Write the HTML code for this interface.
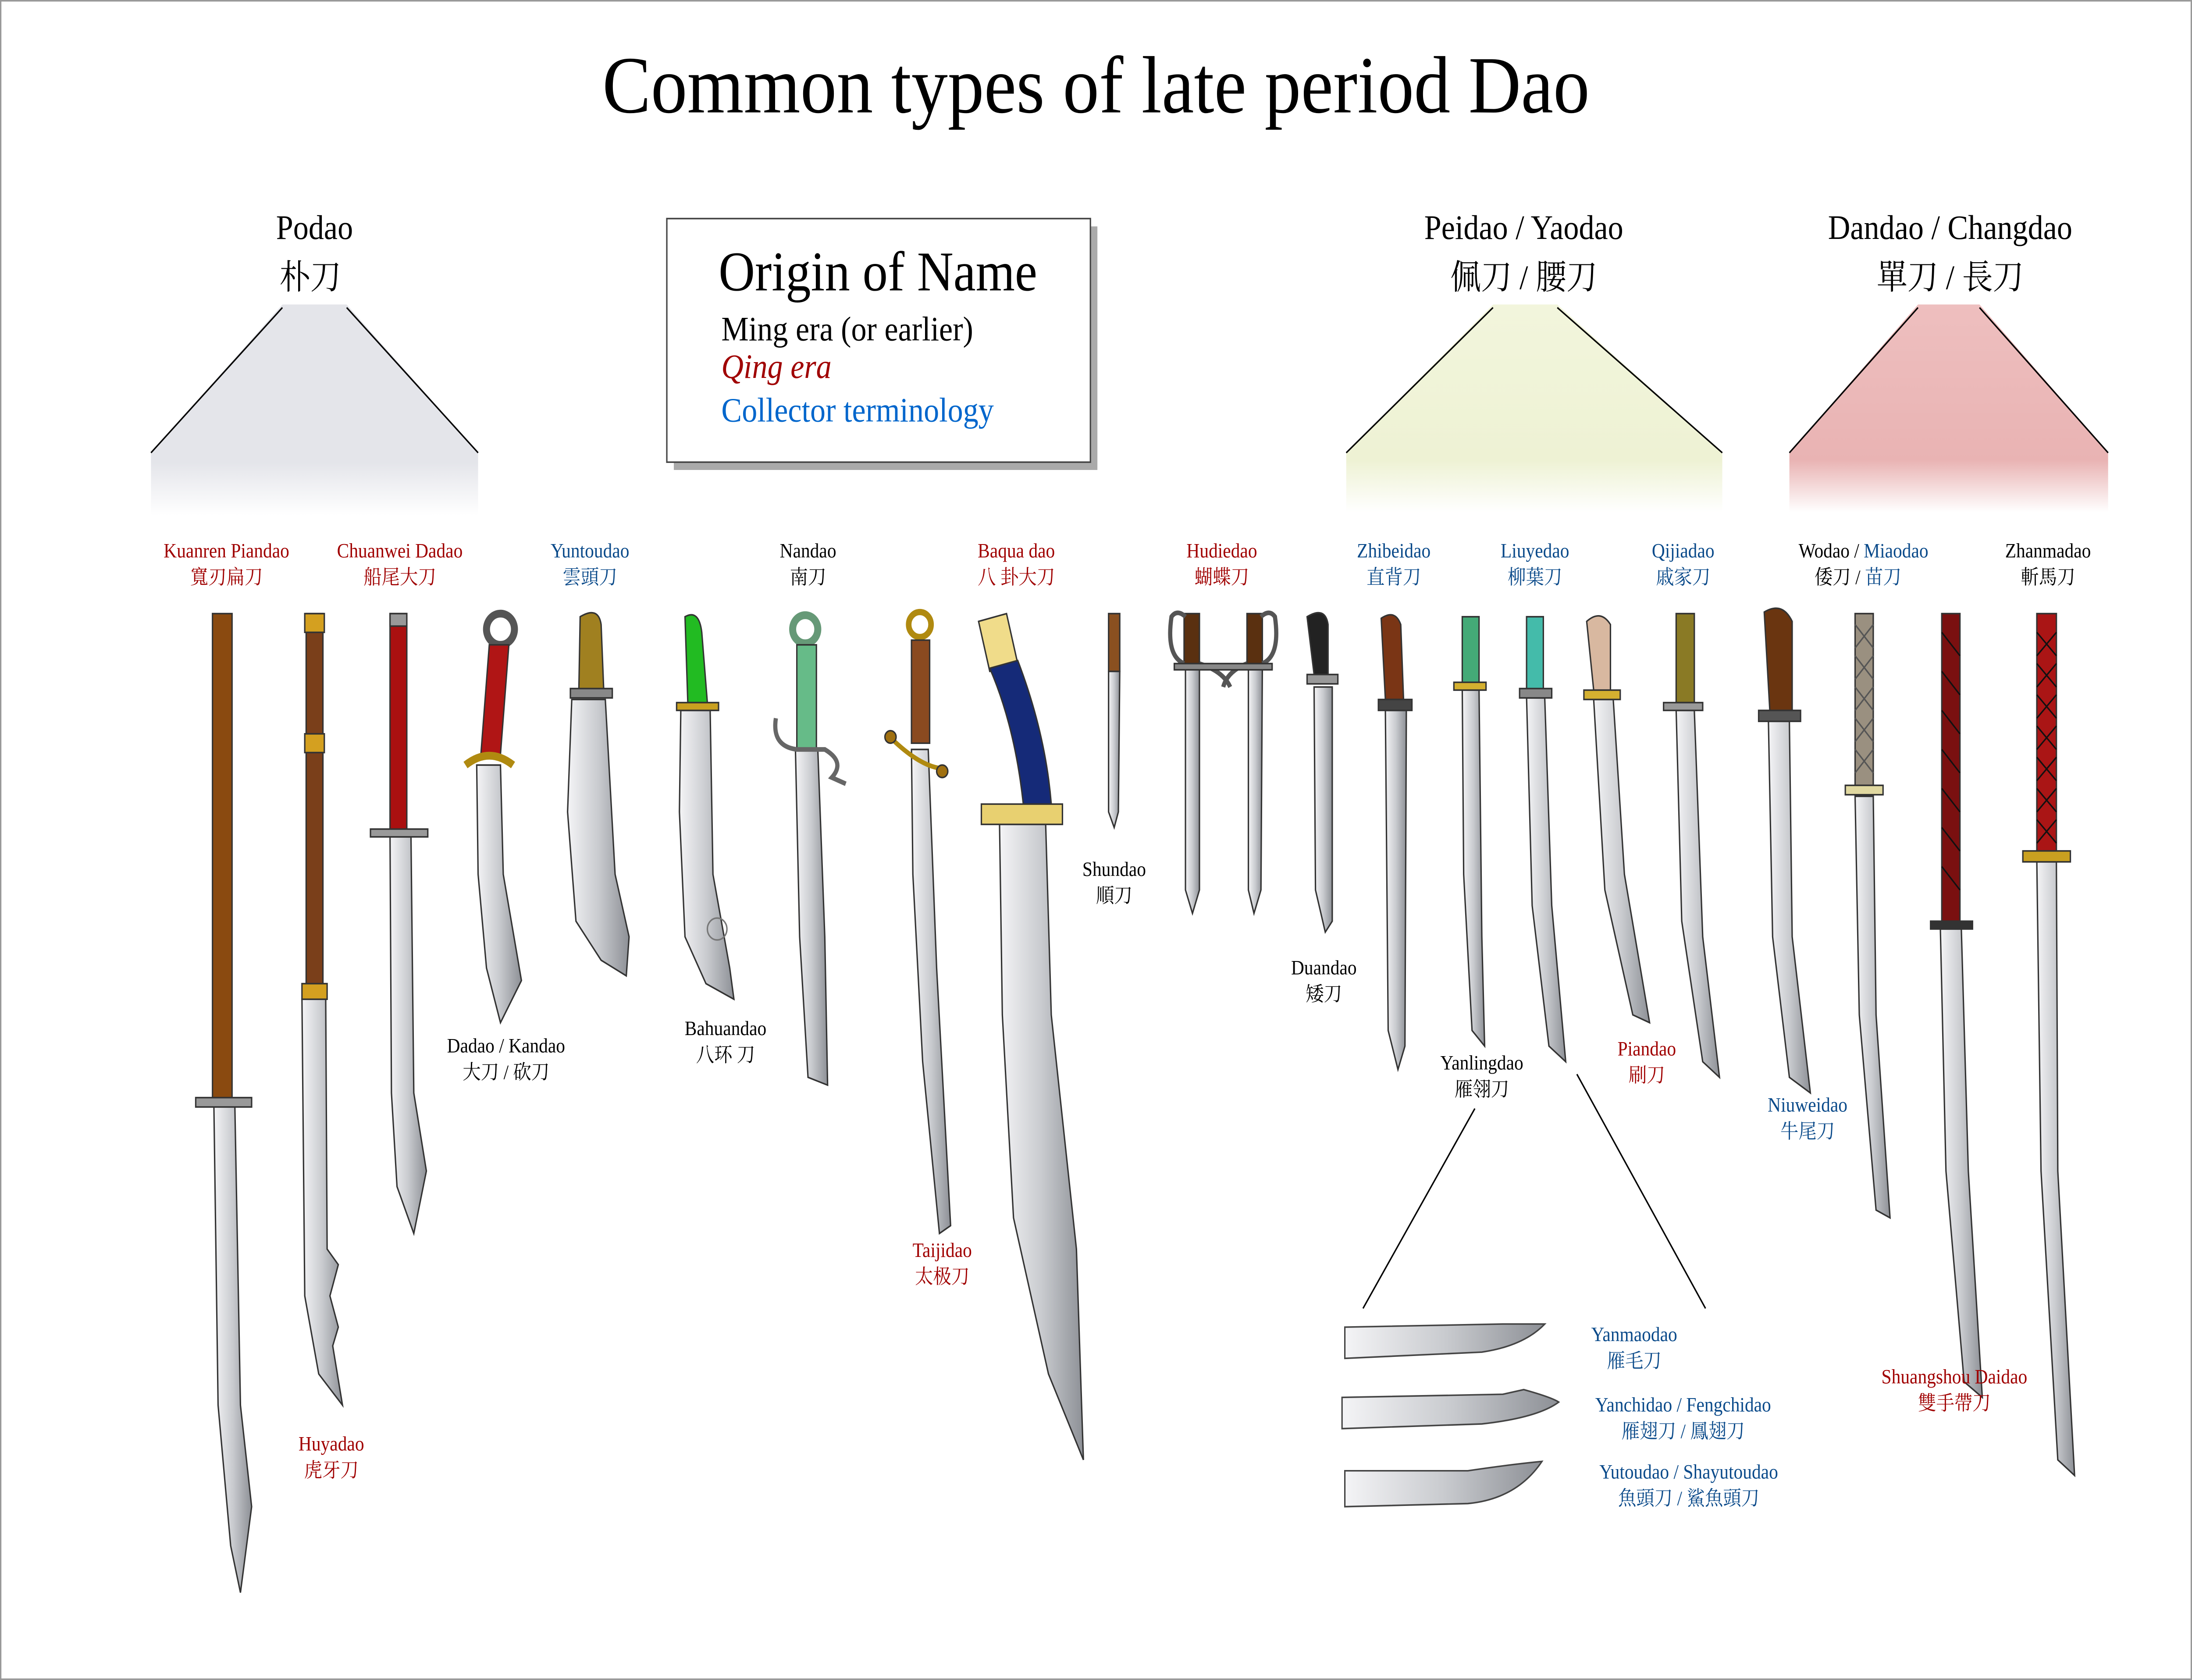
<!DOCTYPE html>
<html><head><meta charset="utf-8"><style>
html,body{margin:0;padding:0;background:#fff;overflow:hidden;width:100%;height:100%}
svg{display:block;position:fixed;left:0;top:0;width:100vw;height:100vh}
text{font-family:"Liberation Serif","Noto Serif CJK SC","Noto Sans CJK SC",serif}
</style></head><body>
<svg viewBox="0 0 1568 1076" preserveAspectRatio="none" xmlns="http://www.w3.org/2000/svg">
<defs>
<linearGradient id="bl" x1="0" x2="1" y1="0" y2="0"><stop offset="0" stop-color="#f4f4f6"/><stop offset="0.5" stop-color="#c9cbcf"/><stop offset="1" stop-color="#8d9096"/></linearGradient>
<linearGradient id="tg" x1="0" x2="0" y1="0" y2="1"><stop offset="0" stop-color="#e4e5ea"/><stop offset="0.75" stop-color="#e4e5ea"/><stop offset="1" stop-color="#fff"/></linearGradient>
<linearGradient id="ty" x1="0" x2="0" y1="0" y2="1"><stop offset="0" stop-color="#f2f5dc"/><stop offset="0.75" stop-color="#eef2d4"/><stop offset="1" stop-color="#fff"/></linearGradient>
<linearGradient id="tp" x1="0" x2="0" y1="0" y2="1"><stop offset="0" stop-color="#eebfbf"/><stop offset="0.75" stop-color="#e9b3b3"/><stop offset="1" stop-color="#fff"/></linearGradient>
</defs>
<rect x="0.5" y="0.5" width="1567" height="1075" fill="#fff" stroke="#999"/>
<text x="784" y="72" font-size="52" text-anchor="middle">Common types of late period Dao</text>

<path d="M202,195 L248,195 L342,290 L342,330 L108,330 L108,290 Z" fill="url(#tg)"/>
<path d="M108,290 L202,197 M248,197 L342,290" stroke="#000" fill="none"/>
<text x="225" y="153" font-size="22" text-anchor="middle">Podao</text>
<text x="222" y="185" font-size="22" text-anchor="middle">朴刀</text>
<path d="M1068,195 L1114,195 L1232,290 L1232,328 L963,328 L963,290 Z" fill="url(#ty)"/>
<path d="M963,290 L1068,197 M1114,197 L1232,290" stroke="#000" fill="none"/>
<text x="1090" y="153" font-size="22" text-anchor="middle">Peidao / Yaodao</text>
<text x="1090" y="185" font-size="22" text-anchor="middle">佩刀 / 腰刀</text>
<path d="M1372,195 L1416,195 L1508,290 L1508,328 L1280,328 L1280,290 Z" fill="url(#tp)"/>
<path d="M1280,290 L1372,197 M1416,197 L1508,290" stroke="#000" fill="none"/>
<text x="1395" y="153" font-size="22" text-anchor="middle">Dandao / Changdao</text>
<text x="1395" y="185" font-size="22" text-anchor="middle">單刀 / 長刀</text>

<rect x="482" y="145" width="303" height="156" fill="#aaa"/>
<rect x="477" y="140" width="303" height="156" fill="#fff" stroke="#444"/>
<text x="628" y="186" font-size="36" text-anchor="middle">Origin of Name</text>
<text x="516" y="218" font-size="22">Ming era (or earlier)</text>
<text x="516" y="242" font-size="22" fill="#a00000" font-style="italic">Qing era</text>
<text x="516" y="270" font-size="22" fill="#0066cc">Collector terminology</text>

<g stroke="#333" stroke-width="1">
<path d="M153,708 L168,708 L172,900 L180,965 L172,1020 L165,990 L156,900 Z" fill="url(#bl)"/>
<rect x="152" y="393" width="14" height="312" fill="#8a4a10"/>
<rect x="140" y="703" width="40" height="6" fill="#999"/>
<path d="M216,640 L233,640 L234,800 L242,810 L236,830 L242,850 L238,862 L245,900 L228,880 L218,830 Z" fill="url(#bl)"/>
<rect x="219" y="393" width="12" height="247" fill="#7a3f1a"/>
<rect x="218" y="393" width="14" height="12" fill="#d4a020"/><rect x="218" y="470" width="14" height="12" fill="#d4a020"/><rect x="216" y="630" width="18" height="10" fill="#d4a020"/>
<path d="M279,536 L294,536 L296,700 L305,750 L296,790 L284,760 L280,700 Z" fill="url(#bl)"/>
<rect x="279" y="393" width="12" height="140" fill="#aa1010"/><rect x="279" y="393" width="12" height="8" fill="#999"/>
<rect x="265" y="531" width="41" height="5" fill="#999"/>
<path d="M341,490 L358,490 L360,560 L373,628 L358,655 L348,620 L342,560 Z" fill="url(#bl)"/>
<circle cx="358" cy="403" r="10" fill="none" stroke="#555" stroke-width="5"/>
<path d="M350,413 L364,413 L358,483 L344,483 Z" fill="#b01515"/>
<path d="M333,490 Q350,478 367,490" stroke="#b08a10" stroke-width="5" fill="none"/>
<path d="M409,448 L433,448 L440,560 L450,600 L448,625 L430,615 L412,590 L406,520 Z" fill="url(#bl)"/>
<path d="M415,395 Q428,388 430,400 L432,445 L414,445 Z" fill="#a08020"/>
<rect x="408" y="441" width="30" height="6" fill="#888"/>
<path d="M487,455 L508,455 L510,560 L522,620 L525,640 L505,630 L490,600 L486,520 Z" fill="url(#bl)"/>
<path d="M490,395 Q500,390 502,405 L506,450 L492,450 Z" fill="#22bb22"/>
<rect x="484" y="450" width="30" height="5" fill="#c9a020"/>
<circle cx="513" cy="595" r="7" fill="none" stroke="#777"/>
<path d="M569,480 L585,480 L590,600 L592,695 L578,690 L572,600 Z" fill="url(#bl)"/>
<circle cx="576" cy="403" r="9" fill="none" stroke="#669977" stroke-width="5"/>
<rect x="570" y="413" width="14" height="67" fill="#66bb88"/>
<path d="M555,460 Q552,478 570,480 L590,480 Q605,488 595,498 L605,502" stroke="#666" stroke-width="3" fill="none"/>
<path d="M652,480 L664,480 L670,620 L680,785 L672,790 L660,680 L653,560 Z" fill="url(#bl)"/>
<circle cx="658" cy="400" r="8" fill="none" stroke="#b08a10" stroke-width="4"/>
<rect x="652" y="410" width="13" height="66" fill="#8a4a20"/>
<path d="M640,475 Q658,490 672,492" stroke="#b08a10" stroke-width="3" fill="none"/>
<circle cx="637" cy="472" r="4" fill="#a07010"/><circle cx="674" cy="494" r="4" fill="#a07010"/>
<path d="M715,528 L748,528 L752,650 L770,800 L775,935 L750,880 L725,780 L717,650 Z" fill="url(#bl)"/>
<path d="M700,398 L720,393 L728,425 L708,430 Z" fill="#f0dc8a"/>
<path d="M708,428 L728,423 Q748,470 752,515 L732,515 Q726,465 708,428 Z" fill="#152a78"/>
<rect x="702" y="515" width="58" height="13" fill="#e8d070"/>
<path d="M793,430 L801,430 L800,520 L797,530 L793,520 Z" fill="url(#bl)"/>
<rect x="793" y="393" width="8" height="37" fill="#8a5020"/>
<path d="M848,428 L858,428 L858,570 L853,585 L848,570 Z" fill="url(#bl)"/>
<path d="M893,428 L903,428 L902,570 L897,585 L893,570 Z" fill="url(#bl)"/>
<rect x="847" y="393" width="11" height="33" fill="#5a3010"/><rect x="892" y="393" width="11" height="33" fill="#5a3010"/>
<path d="M847,425 Q834,420 838,395 Q842,390 848,395 M858,425 Q875,430 880,440 M903,425 Q916,420 912,395 Q908,390 902,395 M892,425 Q878,430 875,440" stroke="#555" stroke-width="3" fill="none"/>
<rect x="840" y="425" width="70" height="4" fill="#888"/>
<path d="M940,440 L953,440 L953,590 L948,597 L941,570 Z" fill="url(#bl)"/>
<path d="M935,395 Q948,388 950,400 L950,432 L940,432 Z" fill="#222"/>
<rect x="935" y="432" width="22" height="6" fill="#999"/>
<path d="M991,455 L1006,455 L1005,670 L1000,685 L993,660 Z" fill="url(#bl)"/>
<path d="M988,396 Q998,390 1002,400 L1004,448 L991,448 Z" fill="#7a3515"/>
<rect x="986" y="448" width="24" height="7" fill="#444"/>
<path d="M1046,442 L1058,442 L1060,600 L1062,670 L1053,660 L1047,560 Z" fill="url(#bl)"/>
<rect x="1046" y="395" width="12" height="43" fill="#44aa77"/>
<rect x="1040" y="437" width="23" height="5" fill="#d4b030"/>
<path d="M1092,447 L1105,447 L1110,580 L1120,680 L1108,670 L1096,580 Z" fill="url(#bl)"/>
<rect x="1092" y="395" width="12" height="48" fill="#44bbaa"/>
<rect x="1087" y="441" width="23" height="6" fill="#888"/>
<path d="M1140,448 L1154,448 L1162,560 L1180,655 L1168,650 L1148,570 Z" fill="url(#bl)"/>
<path d="M1135,398 Q1145,390 1152,400 L1152,442 L1140,442 Z" fill="#d8b8a0"/>
<rect x="1133" y="442" width="26" height="6" fill="#d4b030"/>
<path d="M1199,455 L1212,455 L1218,600 L1230,690 L1218,680 L1203,590 Z" fill="url(#bl)"/>
<rect x="1199" y="393" width="13" height="57" fill="#8a7a25"/>
<rect x="1190" y="450" width="28" height="5" fill="#999"/>
<path d="M1265,462 L1280,462 L1282,600 L1295,700 L1280,690 L1268,600 Z" fill="url(#bl)"/>
<path d="M1262,392 Q1275,385 1282,398 L1282,455 L1266,455 Z" fill="#6a3510"/>
<rect x="1258" y="455" width="30" height="7" fill="#555"/>
<path d="M1327,510 L1340,510 L1342,650 L1352,780 L1342,775 L1330,650 Z" fill="url(#bl)"/>
<rect x="1327" y="393" width="13" height="110" fill="#9a9080"/>
<path d="M1327,400 L1340,415 M1327,420 L1340,435 M1327,440 L1340,455 M1327,460 L1340,475 M1327,480 L1340,495 M1340,400 L1327,415 M1340,420 L1327,435 M1340,440 L1327,455 M1340,460 L1327,475 M1340,480 L1327,495" stroke="#555"/>
<rect x="1320" y="503" width="27" height="6" fill="#e0d8a0"/>
<path d="M1388,595 L1403,595 L1408,750 L1418,895 L1405,885 L1392,750 Z" fill="url(#bl)"/>
<rect x="1389" y="393" width="13" height="197" fill="#7a1010"/>
<path d="M1389,405 L1402,420 M1389,430 L1402,445 M1389,455 L1402,470 M1389,480 L1402,495 M1389,505 L1402,520 M1389,530 L1402,545 M1389,555 L1402,570" stroke="#111"/>
<rect x="1381" y="590" width="30" height="5" fill="#333"/>
<path d="M1457,552 L1471,552 L1472,750 L1484,945 L1472,935 L1460,750 Z" fill="url(#bl)"/>
<rect x="1457" y="393" width="14" height="152" fill="#aa1515"/>
<path d="M1457,405 L1471,420 M1457,425 L1471,440 M1457,445 L1471,460 M1457,465 L1471,480 M1457,485 L1471,500 M1457,505 L1471,520 M1457,525 L1471,540 M1471,405 L1457,420 M1471,425 L1457,440 M1471,445 L1457,460 M1471,465 L1457,480 M1471,485 L1457,500 M1471,505 L1457,520 M1471,525 L1457,540" stroke="#111"/>
<rect x="1447" y="545" width="34" height="7" fill="#c9a020"/>
</g>

<path d="M1055,710 L975,838 M1128,688 L1220,838" stroke="#000" fill="none"/>
<g stroke="#444" fill="url(#bl)">
<path d="M962,850 L1075,848 Q1095,848 1105,848 Q1090,862 1060,866 L962,870 Z"/>
<path d="M960,895 L1075,893 L1090,890 Q1110,895 1115,898 Q1100,908 1060,912 L960,915 Z"/>
<path d="M962,942 L1050,942 Q1080,938 1103,936 Q1085,960 1050,963 L962,965 Z"/>
</g>

<g font-size="13" text-anchor="middle">
<text x="162" y="357" fill="#a00000">Kuanren Piandao</text><text x="162" y="374" fill="#a00000">寬刃扁刀</text>
<text x="286" y="357" fill="#a00000">Chuanwei Dadao</text><text x="286" y="374" fill="#a00000">船尾大刀</text>
<text x="422" y="357" fill="#0a4a8a">Yuntoudao</text><text x="422" y="374" fill="#0a4a8a">雲頭刀</text>
<text x="578" y="357">Nandao</text><text x="578" y="374">南刀</text>
<text x="727" y="357" fill="#a00000">Baqua dao</text><text x="727" y="374" fill="#a00000">八 卦大刀</text>
<text x="874" y="357" fill="#a00000">Hudiedao</text><text x="874" y="374" fill="#a00000">蝴蝶刀</text>
<text x="997" y="357" fill="#0a4a8a">Zhibeidao</text><text x="997" y="374" fill="#0a4a8a">直背刀</text>
<text x="1098" y="357" fill="#0a4a8a">Liuyedao</text><text x="1098" y="374" fill="#0a4a8a">柳葉刀</text>
<text x="1204" y="357" fill="#0a4a8a">Qijiadao</text><text x="1204" y="374" fill="#0a4a8a">戚家刀</text>
<text x="1333" y="357"><tspan>Wodao / </tspan><tspan fill="#0a4a8a">Miaodao</tspan></text><text x="1329" y="374">倭刀 / <tspan fill="#0a4a8a">苗刀</tspan></text>
<text x="1465" y="357">Zhanmadao</text><text x="1465" y="374">斬馬刀</text>
<text x="797" y="561">Shundao</text><text x="797" y="578">順刀</text>
<text x="947" y="624">Duandao</text><text x="947" y="641">矮刀</text>
<text x="519" y="663">Bahuandao</text><text x="519" y="680">八环 刀</text>
<text x="362" y="674">Dadao / Kandao</text><text x="362" y="691">大刀 / 砍刀</text>
<text x="1178" y="676" fill="#a00000">Piandao</text><text x="1178" y="693" fill="#a00000">刷刀</text>
<text x="1060" y="685">Yanlingdao</text><text x="1060" y="702">雁翎刀</text>
<text x="1293" y="712" fill="#0a4a8a">Niuweidao</text><text x="1293" y="729" fill="#0a4a8a">牛尾刀</text>
<text x="674" y="805" fill="#a00000">Taijidao</text><text x="674" y="822" fill="#a00000">太极刀</text>
<text x="1398" y="886" fill="#a00000">Shuangshou Daidao</text><text x="1398" y="903" fill="#a00000">雙手帶刀</text>
<text x="237" y="929" fill="#a00000">Huyadao</text><text x="237" y="946" fill="#a00000">虎牙刀</text>
<text x="1169" y="859" fill="#0a4a8a">Yanmaodao</text><text x="1169" y="876" fill="#0a4a8a">雁毛刀</text>
<text x="1204" y="904" fill="#0a4a8a">Yanchidao / Fengchidao</text><text x="1204" y="921" fill="#0a4a8a">雁翅刀 / 鳳翅刀</text>
<text x="1208" y="947" fill="#0a4a8a">Yutoudao / Shayutoudao</text><text x="1208" y="964" fill="#0a4a8a">魚頭刀 / 鯊魚頭刀</text>
</g>
</svg>
</body></html>
